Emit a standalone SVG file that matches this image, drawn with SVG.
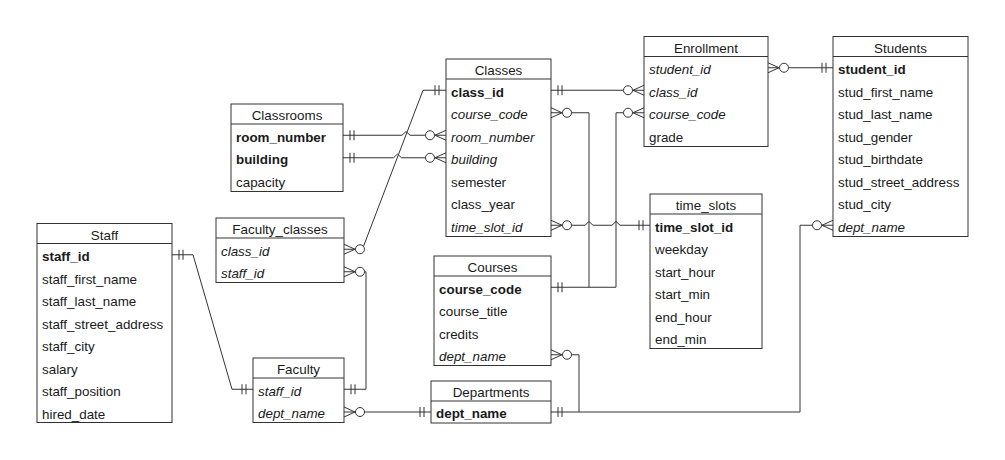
<svg xmlns="http://www.w3.org/2000/svg" xmlns:xlink="http://www.w3.org/1999/xlink" width="1005" height="460" viewBox="0 0 1005 460">
<style>
.box{fill:#fff;stroke:#333;stroke-width:1}
.hd{stroke:#333;stroke-width:1}
.t{font-family:"Liberation Sans",Arial,Helvetica,sans-serif;font-size:13.4px;fill:#1a1a1a}
.ti{text-anchor:middle}
.b{font-weight:bold}
.i{font-style:italic}
.conn{fill:none;stroke:#333;stroke-width:1}
.sym{fill:none;stroke:#333;stroke-width:1}
.ring{fill:#fff;stroke:#333;stroke-width:1}
</style>
<defs>
<g id="many"><path class="sym" d="M0,-5 L11,0 L0,5 M0,0 H11.5"/><circle class="ring" cx="16" cy="0" r="4.5"/></g>
<g id="one"><path class="sym" d="M7,-5 V5 M11,-5 V5"/></g>
</defs>
<rect width="1005" height="460" fill="#fff"/>

<g id="connectors">
<path class="conn" d="M343,135.25 H402 L406,131.5 L410,135.25 H425.5"/>
<path class="conn" d="M343,157.75 H393.5 L397.5,154 L401.5,157.75 H425.5"/>
<path class="conn" d="M363.5,246.3 L423,90.25 H446"/>
<path class="conn" d="M364.5,271.75 H366 V389.25 H344"/>
<path class="conn" d="M172,254.75 H193 L232,389.25 H253"/>
<path class="conn" d="M364.5,412 H431"/>
<path class="conn" d="M571.5,112.75 H589 V287.25"/>
<path class="conn" d="M623.5,112.75 H616 V287.25 H551"/>
<path class="conn" d="M551,90.25 H623.5"/>
<path class="conn" d="M571.5,225.25 H585 L589,221.5 L593,225.25 H612 L616,221.5 L620,225.25 H650"/>
<path class="conn" d="M571.5,354.75 H579 V412 H551 M579,412 H800 V225.25 H812.5"/>
<path class="conn" d="M788.5,67.75 H833"/>

<use xlink:href="#one" transform="translate(343,135.25)"/>
<use xlink:href="#one" transform="translate(343,157.75)"/>
<use xlink:href="#many" transform="translate(446,135.25) scale(-1,1)"/>
<use xlink:href="#many" transform="translate(446,157.75) scale(-1,1)"/>
<use xlink:href="#one" transform="translate(446,90.25) scale(-1,1)"/>
<use xlink:href="#many" transform="translate(344,249.25)"/>
<use xlink:href="#many" transform="translate(344,271.75)"/>
<use xlink:href="#one" transform="translate(344,389.25)"/>
<use xlink:href="#one" transform="translate(253,389.25) scale(-1,1)"/>
<use xlink:href="#many" transform="translate(344,412)"/>
<use xlink:href="#one" transform="translate(172,254.75)"/>
<use xlink:href="#one" transform="translate(431,412) scale(-1,1)"/>
<use xlink:href="#one" transform="translate(551,412)"/>
<use xlink:href="#many" transform="translate(551,112.75)"/>
<use xlink:href="#one" transform="translate(551,90.25)"/>
<use xlink:href="#many" transform="translate(551,225.25)"/>
<use xlink:href="#many" transform="translate(644,90.25) scale(-1,1)"/>
<use xlink:href="#many" transform="translate(644,112.75) scale(-1,1)"/>
<use xlink:href="#many" transform="translate(768,67.75)"/>
<use xlink:href="#one" transform="translate(833,67.75) scale(-1,1)"/>
<use xlink:href="#many" transform="translate(833,225.25) scale(-1,1)"/>
<use xlink:href="#one" transform="translate(551,287.25)"/>
<use xlink:href="#many" transform="translate(551,354.75)"/>
<use xlink:href="#one" transform="translate(650,225.25) scale(-1,1)"/>
</g>

<g id="Classrooms">
<rect class="box" x="231" y="104" width="112" height="87.5"/>
<line class="hd" x1="231" y1="124" x2="343" y2="124"/>
<text class="t ti" x="287" y="120">Classrooms</text>
<text class="t b" x="236" y="141.5">room_number</text>
<text class="t b" x="236" y="164">building</text>
<text class="t" x="236" y="186.5">capacity</text>
</g>

<g id="Classes">
<rect class="box" x="446" y="59" width="105" height="177.5"/>
<line class="hd" x1="446" y1="79" x2="551" y2="79"/>
<text class="t ti" x="498.5" y="75">Classes</text>
<text class="t b" x="451" y="96.5">class_id</text>
<text class="t i" x="451" y="119">course_code</text>
<text class="t i" x="451" y="141.5">room_number</text>
<text class="t i" x="451" y="164">building</text>
<text class="t" x="451" y="186.5">semester</text>
<text class="t" x="451" y="209">class_year</text>
<text class="t i" x="451" y="231.5">time_slot_id</text>
</g>

<g id="Enrollment">
<rect class="box" x="644" y="36.5" width="124" height="110"/>
<line class="hd" x1="644" y1="56.5" x2="768" y2="56.5"/>
<text class="t ti" x="706" y="52.5">Enrollment</text>
<text class="t i" x="649" y="74">student_id</text>
<text class="t i" x="649" y="96.5">class_id</text>
<text class="t i" x="649" y="119">course_code</text>
<text class="t" x="649" y="141.5">grade</text>
</g>

<g id="Students">
<rect class="box" x="833" y="36.5" width="135" height="200"/>
<line class="hd" x1="833" y1="56.5" x2="968" y2="56.5"/>
<text class="t ti" x="900.5" y="52.5">Students</text>
<text class="t b" x="838" y="74">student_id</text>
<text class="t" x="838" y="96.5">stud_first_name</text>
<text class="t" x="838" y="119">stud_last_name</text>
<text class="t" x="838" y="141.5">stud_gender</text>
<text class="t" x="838" y="164">stud_birthdate</text>
<text class="t" x="838" y="186.5">stud_street_address</text>
<text class="t" x="838" y="209">stud_city</text>
<text class="t i" x="838" y="231.5">dept_name</text>
</g>

<g id="Staff">
<rect class="box" x="37" y="223.5" width="135" height="199"/>
<line class="hd" x1="37" y1="243.5" x2="172" y2="243.5"/>
<text class="t ti" x="104.5" y="239.5">Staff</text>
<text class="t b" x="42" y="261">staff_id</text>
<text class="t" x="42" y="283.5">staff_first_name</text>
<text class="t" x="42" y="306">staff_last_name</text>
<text class="t" x="42" y="328.5">staff_street_address</text>
<text class="t" x="42" y="351">staff_city</text>
<text class="t" x="42" y="373.5">salary</text>
<text class="t" x="42" y="396">staff_position</text>
<text class="t" x="42" y="418.5">hired_date</text>
</g>

<g id="Faculty_classes">
<rect class="box" x="216" y="218" width="128" height="64.5"/>
<line class="hd" x1="216" y1="238" x2="344" y2="238"/>
<text class="t ti" x="280" y="234">Faculty_classes</text>
<text class="t i" x="221" y="255.5">class_id</text>
<text class="t i" x="221" y="278">staff_id</text>
</g>

<g id="Faculty">
<rect class="box" x="253" y="358" width="91" height="64.5"/>
<line class="hd" x1="253" y1="378" x2="344" y2="378"/>
<text class="t ti" x="298.5" y="374">Faculty</text>
<text class="t i" x="258" y="395.5">staff_id</text>
<text class="t i" x="258" y="418">dept_name</text>
</g>

<g id="Courses">
<rect class="box" x="434" y="256" width="117" height="109.5"/>
<line class="hd" x1="434" y1="276" x2="551" y2="276"/>
<text class="t ti" x="492.5" y="272">Courses</text>
<text class="t b" x="439" y="293.5">course_code</text>
<text class="t" x="439" y="316">course_title</text>
<text class="t" x="439" y="338.5">credits</text>
<text class="t i" x="439" y="361">dept_name</text>
</g>

<g id="Departments">
<rect class="box" x="431" y="381" width="120" height="42"/>
<line class="hd" x1="431" y1="401" x2="551" y2="401"/>
<text class="t ti" x="491" y="397">Departments</text>
<text class="t b" x="436" y="418">dept_name</text>
</g>

<g id="time_slots">
<rect class="box" x="650" y="194" width="112" height="154.5"/>
<line class="hd" x1="650" y1="214" x2="762" y2="214"/>
<text class="t ti" x="706" y="210">time_slots</text>
<text class="t b" x="655" y="231.5">time_slot_id</text>
<text class="t" x="655" y="254">weekday</text>
<text class="t" x="655" y="276.5">start_hour</text>
<text class="t" x="655" y="299">start_min</text>
<text class="t" x="655" y="321.5">end_hour</text>
<text class="t" x="655" y="344">end_min</text>
</g>
</svg>
